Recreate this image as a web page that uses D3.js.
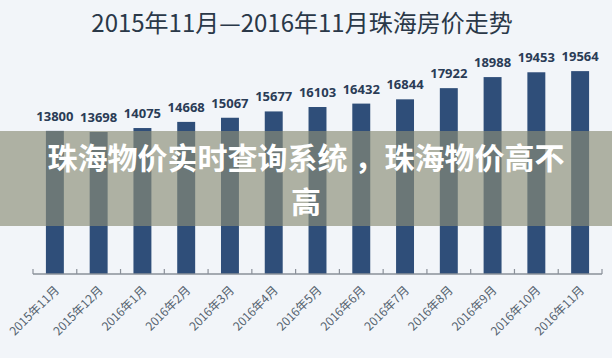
<!DOCTYPE html>
<html>
<head>
<meta charset="utf-8">
<script src="https://cdn.jsdelivr.net/npm/d3@7"></script>
<style>
  html, body { margin: 0; padding: 0; background: #f2f5f9; }
  svg { display: block; }
</style>
</head>
<body>
<svg id="chart" width="612" height="358"></svg>
<script>
const title = "2015年11月—2016年11月珠海房价走势";
const categories = ["2015年11月","2015年12月","2016年1月","2016年2月","2016年3月","2016年4月","2016年5月","2016年6月","2016年7月","2016年8月","2016年9月","2016年10月","2016年11月"];
const prices = [13800, 13698, 14075, 14668, 15067, 15677, 16103, 16432, 16844, 17922, 18988, 19453, 19564];
const overlayLines = ["珠海物价实时查询系统 ，珠海物价高不", "高"];

const W = 612, H = 358;
const svg = d3.select("#chart");
svg.append("rect").attr("width", W).attr("height", H).attr("fill", "#f2f5f9");

const x = d3.scaleBand().domain(categories).range([33, 602]).paddingInner(0.59).paddingOuter(0.295);
const y = d3.scaleLinear().domain([0, 20000]).range([274, 66.6]);

// title
svg.append("text")
  .attr("x", 302).attr("y", 32)
  .attr("text-anchor", "middle")
  .attr("font-family", "'Noto Sans CJK SC', 'Noto Sans', sans-serif")
  .attr("font-size", 24)
  .attr("fill", "#2a3848")
  .text(title);

// bars
svg.append("g").selectAll("rect").data(prices).join("rect")
  .attr("x", (d, i) => x(categories[i]))
  .attr("width", x.bandwidth())
  .attr("y", d => y(d))
  .attr("height", d => y(0) - y(d))
  .attr("fill", "#2f4e79");

// value labels
svg.append("g").selectAll("text").data(prices).join("text")
  .attr("x", (d, i) => x(categories[i]) + x.bandwidth() / 2)
  .attr("y", d => y(d) - 10)
  .attr("text-anchor", "middle")
  .attr("font-family", "'Noto Sans', 'Open Sans', sans-serif")
  .attr("font-weight", "bold")
  .attr("font-size", 13)
  .attr("fill", "#2a3c56")
  .text(d => d);

// x axis: line + upward ticks at band boundaries
const axisG = svg.append("g");
axisG.append("line")
  .attr("x1", 33).attr("x2", 602)
  .attr("y1", 274).attr("y2", 274)
  .attr("stroke", "#8a9099").attr("stroke-width", 1.5);
const step = x.step();
const boundaries = d3.range(categories.length + 1).map(i => 33 + i * step);
axisG.selectAll("line.tick").data(boundaries).join("line")
  .attr("class", "tick")
  .attr("x1", d => d).attr("x2", d => d)
  .attr("y1", 274).attr("y2", 269)
  .attr("stroke", "#8a9099").attr("stroke-width", 1.2);

// x labels rotated
axisG.selectAll("text").data(categories).join("text")
  .attr("transform", d => `translate(${x(d) + x.bandwidth() / 2 + 5},291) rotate(-45)`)
  .attr("text-anchor", "end")
  .attr("font-family", "'Noto Sans CJK SC', 'Noto Sans', sans-serif")
  .attr("font-size", 12)
  .attr("fill", "#55636f")
  .text(d => d);

// overlay band
svg.append("rect")
  .attr("x", 0).attr("y", 131).attr("width", W).attr("height", 95)
  .attr("fill", "rgb(138,141,119)").attr("fill-opacity", 0.66);

// overlay text as one wrapped text element
const ov = svg.append("text")
  .attr("x", 306)
  .attr("y", 169)
  .attr("text-anchor", "middle")
  .attr("font-family", "'Noto Sans CJK SC', sans-serif")
  .attr("font-weight", "bold")
  .attr("font-size", 30)
  .attr("fill", "#ffffff");
ov.selectAll("tspan").data(overlayLines).join("tspan")
  .attr("x", 306)
  .attr("dy", (d, i) => i === 0 ? 0 : 44)
  .text(d => d);
</script>
</body>
</html>
